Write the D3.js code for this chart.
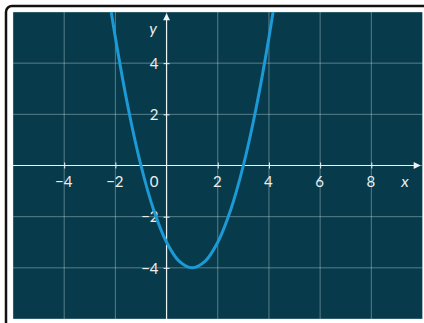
<!DOCTYPE html>
<html>
<head>
<meta charset="utf-8">
<script src="https://cdn.jsdelivr.net/npm/d3@7"></script>
<style>
	body { margin: 0; background: #fff; }
	svg { display: block; }
	.tick text { font-family: Lato, "Open Sans", sans-serif; font-size: 15px; fill: #e9eff1; }
	.axis-title { font-family: Lato, "Open Sans", sans-serif; font-size: 16px; font-style: italic; fill: #e9eff1; }
</style>
</head>
<body>
<svg id="chart"></svg>
<script>
(function() {

	// DATA
	var curveX = [-2.5, -2, -1.5, -1, -0.5, 0, 0.5, 1, 1.5, 2, 2.5, 3, 3.5, 4, 4.5]
	var curveY = [8.25, 5, 2.25, 0, -1.75, -3, -3.75, -4, -3.75, -3, -1.75, 0, 2.25, 5, 8.25]
	var xTicks = [-4, -2, 2, 4, 6, 8]
	var yTicks = [-4, -2, 2, 4]
	var gridX = [-6, -4, -2, 0, 2, 4, 6, 8, 10]
	var gridY = [-6, -4, -2, 0, 2, 4, 6]
	var xDomain = [-6, 10]
	var yDomain = [-6, 6]

	// VARS
	var W = 424, H = 323
	var plot = { left: 13, top: 12, right: 422.5, bottom: 319 }
	var bg = '#073b4c'
	var lineColor = '#1c9ad6'
	var axisColor = '#eef3f5'

	var svg = d3.select('#chart').attr('width', W).attr('height', H)

	var x = d3.scaleLinear().domain(xDomain).range([plot.left, plot.right])
	var y = d3.scaleLinear().domain(yDomain).range([plot.bottom, plot.top])

	var points = curveX.map(function(d, i) { return { x: d, y: curveY[i] } })

	// frame
	svg.append('rect')
		.attr('x', 6).attr('y', 6)
		.attr('width', W + 10).attr('height', H + 10)
		.attr('rx', 6)
		.style('fill', '#fff')
		.style('stroke', '#111')
		.style('stroke-width', 2.5)

	svg.append('rect')
		.attr('x', plot.left).attr('y', plot.top)
		.attr('width', plot.right - plot.left)
		.attr('height', plot.bottom - plot.top)
		.style('fill', bg)

	svg.append('clipPath').attr('id', 'clip')
		.append('rect')
		.attr('x', plot.left).attr('y', plot.top)
		.attr('width', plot.right - plot.left)
		.attr('height', plot.bottom - plot.top)

	// grid
	var grid = svg.append('g').attr('class', 'grid')
		.style('stroke', 'rgba(220,235,240,0.38)')
		.style('stroke-width', 1)

	grid.selectAll('.gx').data(gridX).enter().append('line')
		.attr('x1', function(d) { return x(d) }).attr('x2', function(d) { return x(d) })
		.attr('y1', plot.top).attr('y2', plot.bottom)

	grid.selectAll('.gy').data(gridY).enter().append('line')
		.attr('y1', function(d) { return y(d) }).attr('y2', function(d) { return y(d) })
		.attr('x1', plot.left).attr('x2', plot.right)

	// axes lines with arrows
	var defs = svg.append('defs')
	defs.append('marker')
		.attr('id', 'arrow')
		.attr('viewBox', '0 0 10 10')
		.attr('refX', 9).attr('refY', 5)
		.attr('markerWidth', 8).attr('markerHeight', 7)
		.attr('markerUnits', 'userSpaceOnUse')
		.attr('orient', 'auto')
		.append('path')
		.attr('d', 'M0,0L10,5L0,10Z')
		.style('fill', axisColor)

	svg.append('line')
		.attr('x1', plot.left).attr('x2', 420)
		.attr('y1', y(0)).attr('y2', y(0))
		.style('stroke', axisColor).style('stroke-width', 1.2)
		.attr('marker-end', 'url(#arrow)')

	svg.append('line')
		.attr('x1', x(0)).attr('x2', x(0))
		.attr('y1', plot.bottom).attr('y2', 14)
		.style('stroke', axisColor).style('stroke-width', 1.2)
		.attr('marker-end', 'url(#arrow)')

	// ticks
	var axisX = d3.axisBottom(x).tickValues(xTicks).tickSize(3).tickSizeOuter(0)
	var gX = svg.append('g').attr('class', 'axis axis--x')
		.attr('transform', 'translate(0,' + y(0) + ')')
		.call(axisX)
	gX.select('.domain').remove()
	gX.selectAll('.tick line').attr('y1', -3).style('stroke', axisColor)
	gX.selectAll('.tick text').attr('y', 11).attr('dy', '0.71em').attr('dx', -1)

	var axisY = d3.axisLeft(y).tickValues(yTicks).tickSize(3).tickSizeOuter(0)
	var gY = svg.append('g').attr('class', 'axis axis--y')
		.attr('transform', 'translate(' + x(0) + ',0)')
		.call(axisY)
	gY.select('.domain').remove()
	gY.selectAll('.tick line').attr('x1', 3).style('stroke', axisColor)
	gY.selectAll('.tick text').attr('x', -8).attr('dy', '0.35em')

	// origin label
	svg.append('g').attr('class', 'tick')
		.append('text')
		.attr('x', x(0) - 8).attr('y', y(0) + 11)
		.attr('dy', '0.71em')
		.attr('text-anchor', 'end')
		.text('0')

	svg.append('text').attr('class', 'axis-title')
		.attr('x', 405).attr('y', y(0) + 21)
		.attr('text-anchor', 'middle')
		.text('x')

	svg.append('text').attr('class', 'axis-title')
		.attr('x', 153).attr('y', 34)
		.attr('text-anchor', 'middle')
		.text('y')

	// curve
	var line = d3.line()
		.x(function(d) { return x(d.x) })
		.y(function(d) { return y(d.y) })
		.curve(d3.curveCatmullRom.alpha(0.5))

	svg.append('path')
		.datum(points)
		.attr('clip-path', 'url(#clip)')
		.attr('d', line)
		.style('fill', 'none')
		.style('stroke', lineColor)
		.style('stroke-width', 3)

})()
</script>
</body>
</html>
